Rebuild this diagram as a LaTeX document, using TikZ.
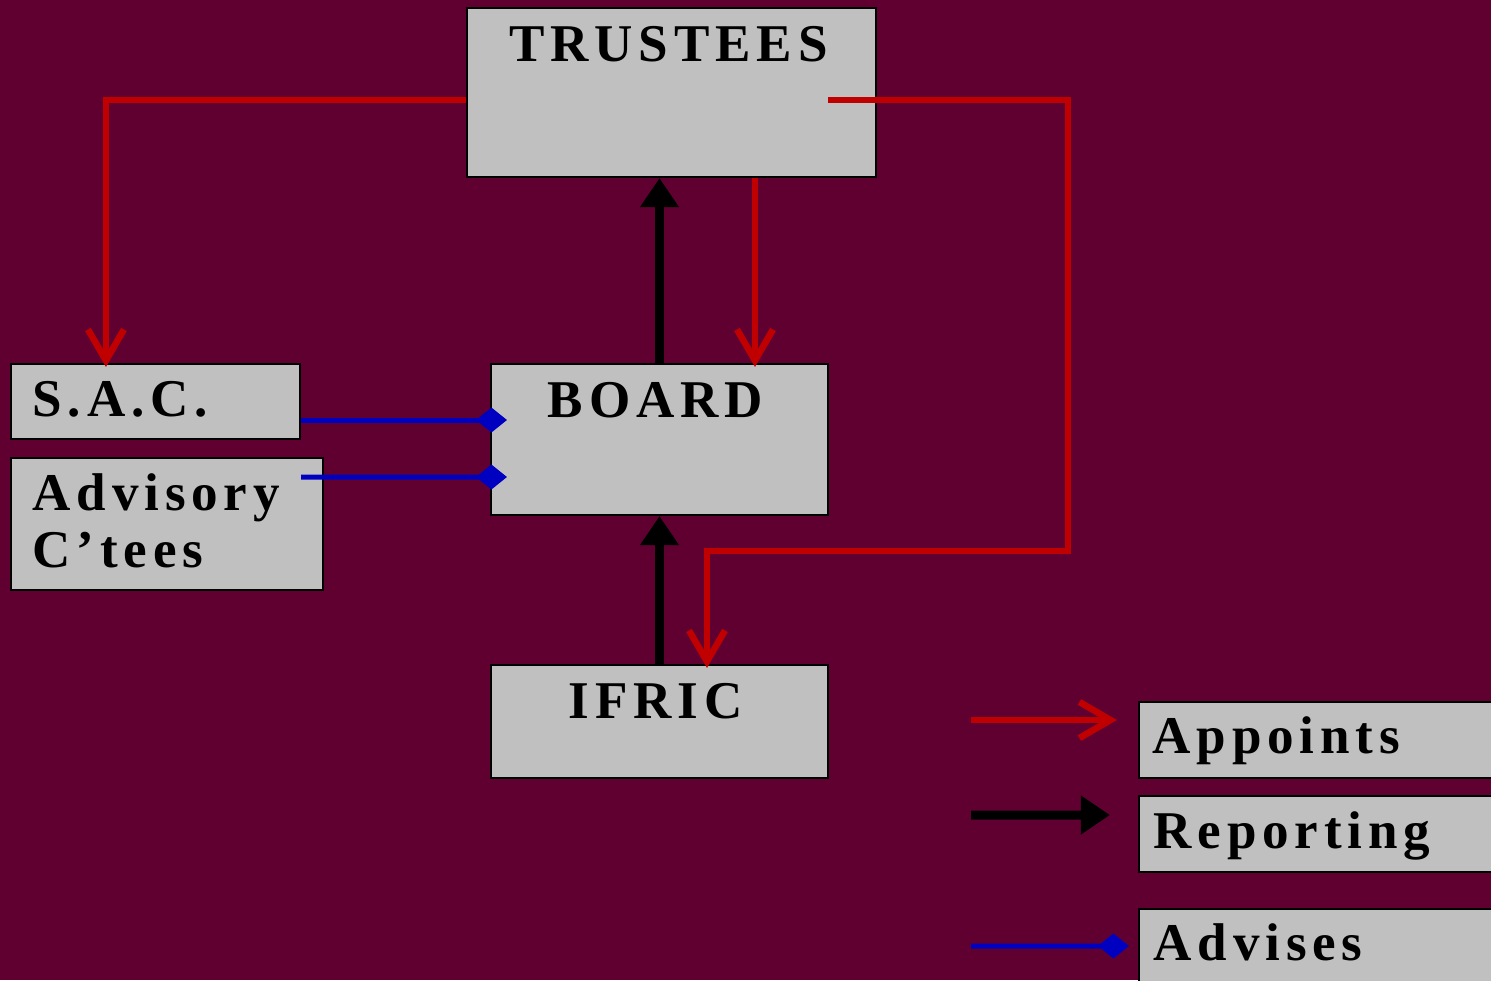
\documentclass[tikz,border=0pt]{standalone}
\usepackage{fontspec}
\setmainfont{Liberation Serif}
\newfontfamily\orgfont[LetterSpace=11]{Liberation Serif}
\usepackage{tikz}
\usetikzlibrary{positioning, arrows.meta, calc}

\definecolor{orgbg}{HTML}{600030}
\definecolor{orgbox}{HTML}{C0C0C0}
\definecolor{orgred}{HTML}{C00000}
\definecolor{orgblue}{HTML}{0000C0}

\begin{document}
\begin{tikzpicture}[
    box/.style={draw=black, line width=0.6pt, fill=orgbox, inner sep=0pt},
    boxtext/.style={inner sep=0pt, font=\orgfont\bfseries\fontsize{15.1}{18}\selectfont},
    appoint/.style={draw=orgred, line width=0.065cm, -{Straight Barb[length=3.1mm, width=3.6mm]}},
    report/.style={draw=black, line width=0.09cm, -{Triangle[length=2.9mm, width=3.7mm]}},
    advise/.style={draw=orgblue, line width=0.05cm, -{Diamond[length=3.1mm, width=2.5mm]}}]

  \fill[orgbg] (0,0) rectangle (14.91,-9.80);
  \useasboundingbox (0,0) rectangle (14.91,-9.80);

  % boxes
  \node[box, minimum width=4.09cm, minimum height=1.69cm] (trustees) at (6.715,-0.925) {};
  \node[box, minimum width=2.89cm, minimum height=0.75cm] (sac) at (1.555,-4.015) {};
  \node[box, minimum width=3.12cm, minimum height=1.32cm] (adv) at (1.67,-5.24) {};
  \node[box, minimum width=3.37cm, minimum height=1.51cm] (board) at (6.595,-4.395) {};
  \node[box, minimum width=3.37cm, minimum height=1.13cm] (ifric) at (6.595,-7.215) {};

  \node[box, minimum width=3.81cm, minimum height=0.76cm] (appoints) at (13.295,-7.40) {};
  \node[box, minimum width=3.81cm, minimum height=0.76cm] (reporting) at (13.295,-8.34) {};
  \node[box, minimum width=3.81cm, minimum height=0.91cm] (advises) at (13.295,-9.545) {};

  % labels
  \node[boxtext, anchor=base] (trusteestext) at ($(trustees.north)+(-0.03,-0.55)$) {TRUSTEES};
  \node[boxtext, anchor=base] (boardtext) at ($(board.north)+(-0.04,-0.55)$) {BOARD};
  \node[boxtext, anchor=base] (ifrictext) at ($(ifric.north)+(-0.04,-0.55)$) {IFRIC};
  \node[boxtext, anchor=base west] (sactext) at ($(sac.north west)+(0.22,-0.54)$) {S.A.C.};
  \node[boxtext, anchor=base west] (advtext) at ($(adv.north west)+(0.22,-0.54)$) {Advisory};
  \node[boxtext, anchor=base west] (cteestext) at ($(adv.north west)+(0.22,-1.11)$) {C’tees};

  \node[boxtext, anchor=base west] (appointstext) at ($(appoints.north west)+(0.14,-0.53)$) {Appoints};
  \node[boxtext, anchor=base west] (reportingtext) at ($(reporting.north west)+(0.15,-0.54)$) {Reporting};
  \node[boxtext, anchor=base west] (advisestext) at ($(advises.north west)+(0.15,-0.53)$) {Advises};

  % appointments
  \coordinate (bend) at (10.68,-5.51);
  \draw[appoint] ($(trustees.west)+(0,-0.075)$) -| ($(sac.north west)+(0.96,-0.04)$);
  \draw[appoint] ($(trustees.south)+(0.835,0)$) -- ($(board.north)+(0.955,-0.04)$);
  \draw[appoint] ($(trustees.east)+(-0.49,-0.075)$) -| (bend) -| ($(ifric.north)+(0.475,-0.04)$);

  % reporting
  \draw[report] (board.north) -- (board.north |- trustees.south);
  \draw[report] (ifric.north) -- (ifric.north |- board.south);

  % advice
  \draw[advise] ($(sac.east)+(0,-0.185)$) -- ($(board.west)+(0.17,0.195)$);
  \draw[advise] ($(adv.east)+(-0.23,0.47)$) -- ($(board.west)+(0.17,-0.375)$);

  % legend
  \coordinate (keyred) at (9.71,-7.20);
  \coordinate (keyblack) at (9.71,-8.15);
  \coordinate (keyblue) at (9.71,-9.46);
  \draw[appoint] (keyred) -- ($(appoints.west)+(-0.21,0.20)$);
  \draw[report] (keyblack) -- ($(reporting.west)+(-0.28,0.19)$);
  \draw[advise] (keyblue) -- ($(advises.west)+(-0.09,0.085)$);
\end{tikzpicture}
\end{document}
